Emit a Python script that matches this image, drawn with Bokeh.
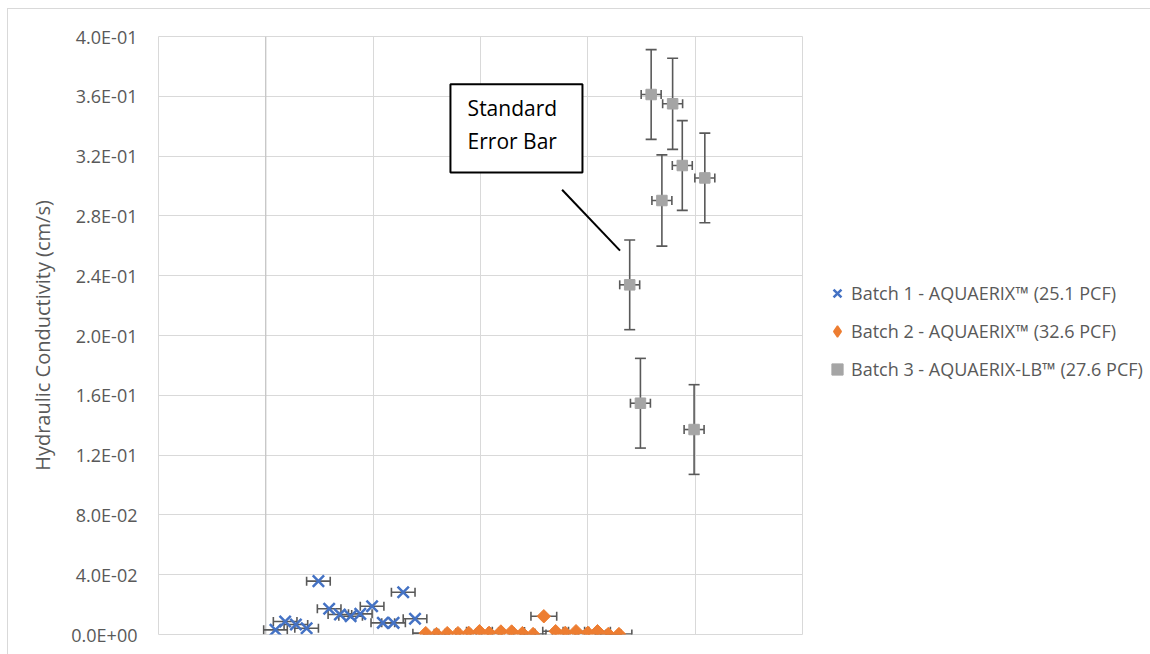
import math
from bokeh.plotting import figure
from bokeh.models import (ColumnDataSource, Whisker, TeeHead, FixedTicker,
                          CustomJSTickFormatter, Legend, LegendItem, BoxAnnotation,
                          Label, Span, Range1d)
from bokeh.embed import file_html
from bokeh.resources import INLINE

# ---------------- data ----------------
b1_label = "Batch 1 - AQUAERIX\u2122 (25.1 PCF)"
b1_x = [10.9, 11.8, 12.8, 13.8, 14.9, 15.9, 16.9, 17.9, 18.8, 19.9, 20.9, 21.9, 22.8, 23.9]
b1_y = [0.0031, 0.0087, 0.0067, 0.0042, 0.0357, 0.0172, 0.0134, 0.0122, 0.0138, 0.0189,
        0.0078, 0.0078, 0.0283, 0.0105]
b1_xerr = [1.1] * 14

b2_label = "Batch 2 - AQUAERIX\u2122 (32.6 PCF)"
b2_x = [24.9, 25.9, 26.9, 27.9, 28.9, 29.9, 30.8, 31.9, 32.9, 33.9, 34.9, 35.9, 37.0,
        37.9, 38.9, 40.0, 40.9, 41.9, 42.9]
b2_y = [0.0009, 0.0003, 0.0009, 0.0009, 0.0011, 0.0022, 0.0011, 0.0020, 0.0020, 0.0009,
        0.0003, 0.0122, 0.0022, 0.0011, 0.0022, 0.0011, 0.0022, 0.0003, 0.0003]
b2_xerr = [1.2] * 19

b3_label = "Batch 3 - AQUAERIX-LB\u2122 (27.6 PCF)"
b3_x = [43.9, 44.9, 45.9, 46.9, 47.9, 48.8, 49.9, 50.9]
b3_y = [0.2339, 0.1547, 0.3612, 0.2903, 0.3550, 0.3137, 0.1371, 0.3054]
b3_yerr = [0.030, 0.030, 0.030, 0.0305, 0.0305, 0.030, 0.030, 0.030]
b3_xerr = [0.93] * 8

y_ticks = [round(i * 0.04, 2) for i in range(11)]
x_grid = [0, 10, 20, 30, 40, 50, 60]

annot_text = ["Standard", "Error Bar"]

# ---------------- styling ----------------
FONT = "Open Sans"
TXT = "#595959"
ERR = "#595959"

p = figure(frame_width=644, frame_height=598, output_backend="svg",
           toolbar_location=None,
           x_range=Range1d(0, 60), y_range=Range1d(0, 0.4),
           min_border_left=150, min_border_right=0, min_border_top=27,
           min_border_bottom=20)
p.styles = {"margin-left": "7px", "margin-top": "8px",
            "border-top": "1px solid #d9d9d9", "border-left": "1px solid #d9d9d9"}
p.outline_line_color = "#d9d9d9"
p.background_fill_color = "white"
p.border_fill_color = "white"

p.xaxis.visible = False
p.xgrid.ticker = FixedTicker(ticks=x_grid)
p.xgrid.grid_line_color = "#d9d9d9"
p.ygrid.grid_line_color = "#d9d9d9"
p.xgrid.grid_line_width = 1
p.ygrid.grid_line_width = 1

ya = p.yaxis[0]
ya.ticker = FixedTicker(ticks=y_ticks)
ya.formatter = CustomJSTickFormatter(code="""
    const s = tick.toExponential(1);
    const parts = s.split('e');
    let e = parseInt(parts[1]);
    const sign = e < 0 ? '-' : '+';
    e = Math.abs(e);
    return parts[0] + 'E' + sign + (e < 10 ? '0' + e : '' + e);
""")
ya.axis_line_color = None
ya.major_tick_line_color = None
ya.minor_tick_line_color = None
ya.major_tick_out = 0
ya.major_label_standoff = 21
ya.major_label_text_font = FONT
ya.major_label_text_font_size = "18px"
ya.major_label_text_color = TXT
ya.axis_label = "Hydraulic Conductivity (cm/s)"
ya.axis_label_text_font = FONT
ya.axis_label_text_font_size = "20px"
ya.axis_label_text_font_style = "normal"
ya.axis_label_text_color = TXT
ya.axis_label_standoff = 12

# vertical axis line crossing at x = 10
p.add_layout(Span(location=10, dimension="height", line_color="#bfbfbf",
                  line_width=1, level="underlay"))

# ---------------- sources ----------------
s1 = ColumnDataSource(dict(x=b1_x, y=b1_y,
                           xl=[a - e for a, e in zip(b1_x, b1_xerr)],
                           xu=[a + e for a, e in zip(b1_x, b1_xerr)]))
s2 = ColumnDataSource(dict(x=b2_x, y=b2_y,
                           xl=[a - e for a, e in zip(b2_x, b2_xerr)],
                           xu=[a + e for a, e in zip(b2_x, b2_xerr)]))
s3 = ColumnDataSource(dict(x=b3_x, y=b3_y,
                           xl=[a - e for a, e in zip(b3_x, b3_xerr)],
                           xu=[a + e for a, e in zip(b3_x, b3_xerr)],
                           yl=[a - e for a, e in zip(b3_y, b3_yerr)],
                           yu=[a + e for a, e in zip(b3_y, b3_yerr)]))


def hwhisk(src, size=9):
    w = Whisker(source=src, base="y", lower="xl", upper="xu", dimension="width",
                line_color=ERR, line_width=1.6, level="underlay",
                upper_head=TeeHead(size=size, line_color=ERR, line_width=1.6),
                lower_head=TeeHead(size=size, line_color=ERR, line_width=1.6))
    p.add_layout(w)


hwhisk(s1)
hwhisk(s2)
hwhisk(s3)
p.add_layout(Whisker(source=s3, base="x", lower="yl", upper="yu", dimension="height",
                     line_color=ERR, line_width=1.6, level="underlay",
                     upper_head=TeeHead(size=11, line_color=ERR, line_width=1.6),
                     lower_head=TeeHead(size=11, line_color=ERR, line_width=1.6)))

r1 = p.scatter("x", "y", source=s1, marker="x", size=16, line_color="#4472C4",
               line_width=2.5)
# diamond-marker twin of batch 2 (hidden beneath the real markers) used as the
# legend swatch, because legend glyphs ignore a marker's angle
r2_key = p.scatter("x", "y", source=s2, marker="diamond", size=8,
                   fill_color="#ED7D31", line_color="#ED7D31", line_width=1.5)
r2 = p.scatter("x", "y", source=s2, marker="square", angle=math.pi / 4, size=9.5,
               fill_color="#ED7D31", line_color="#ED7D31")
r3 = p.scatter("x", "y", source=s3, marker="square", size=10.5,
               fill_color="#A5A5A5", line_color="#A5A5A5")

legend = Legend(items=[LegendItem(label=b1_label, renderers=[r1]),
                       LegendItem(label=b2_label, renderers=[r2_key]),
                       LegendItem(label=b3_label, renderers=[r3])],
                location=(21, 251), orientation="vertical",
                border_line_color=None, background_fill_alpha=0,
                padding=0, margin=0, spacing=10,
                glyph_width=28, glyph_height=28, label_height=28,
                label_standoff=0, label_text_font=FONT,
                label_text_font_size="18px", label_text_color=TXT)
p.add_layout(legend, "right")

# ---------------- callout ----------------
p.add_layout(BoxAnnotation(left=27.2, right=39.5, top=0.368, bottom=0.309,
                           fill_color="white", fill_alpha=1, line_color="black",
                           line_alpha=1, line_width=2))
p.add_layout(Label(x=28.8, y=0.343, text=annot_text[0], text_font=FONT,
                   text_font_size="21px", text_color="black"))
p.add_layout(Label(x=28.8, y=0.321, text=annot_text[1], text_font=FONT,
                   text_font_size="21px", text_color="black"))
p.line(x=[37.6, 43.0], y=[0.2975, 0.2568], line_color="black", line_width=2)

open("out.html", "w").write(file_html(p, INLINE))
